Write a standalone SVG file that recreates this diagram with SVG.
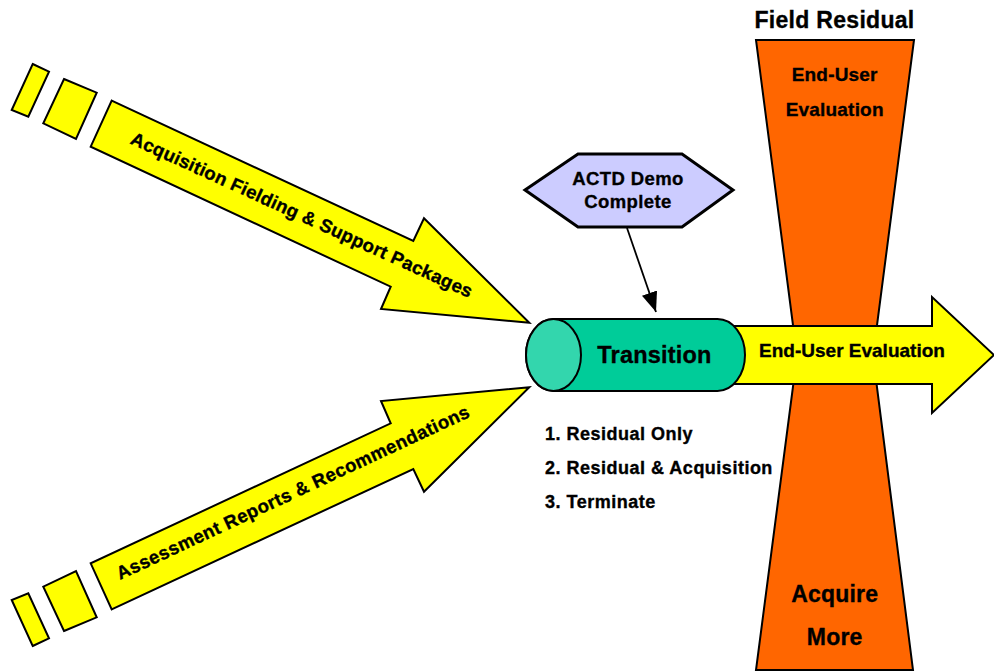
<svg xmlns="http://www.w3.org/2000/svg" width="994" height="672" viewBox="0 0 994 672">
<defs>
<style>
.t{font-family:"Liberation Sans",Arial,sans-serif;font-weight:bold;fill:#000;stroke:#000;stroke-width:0.35}
.yel{fill:#FFFF00;stroke:#000;stroke-width:2;stroke-linejoin:miter}
.org{fill:#FF6600;stroke:#000;stroke-width:2}
.grn{fill:#00CC99;stroke:#000;stroke-width:2}
.grnl{fill:#33D6AD;stroke:#000;stroke-width:2}
.hex{fill:#CCCCFF;stroke:#000;stroke-width:3;stroke-linejoin:miter}
.conn{stroke:#000;stroke-width:1.8;fill:none}
</style>
<marker id="ahbig" viewBox="0 0 20 16" refX="20" refY="8" markerWidth="20" markerHeight="16" markerUnits="userSpaceOnUse" orient="auto">
<path d="M0,0 L20,8 L0,16 Z" fill="#000"/>
</marker>
</defs>
<rect width="994" height="672" fill="#FFFFFF"/>

<g id="field-residual">
<polygon class="org" points="756,40 914,40 873,356 913,670 756,670 797,356"/>
<text class="t" x="834.5" y="28" font-size="23" letter-spacing="0.3" text-anchor="middle">Field Residual</text>
<text class="t" x="834.7" y="81" font-size="19" letter-spacing="0.2" text-anchor="middle">End-User</text>
<text class="t" x="834.7" y="116" font-size="19" letter-spacing="0.2" text-anchor="middle">Evaluation</text>
<text class="t" x="834.7" y="602" font-size="23" letter-spacing="0.2" text-anchor="middle">Acquire</text>
<text class="t" x="834.7" y="645" font-size="23" letter-spacing="0.2" text-anchor="middle">More</text>
</g>

<g id="end-user-arrow">
<polygon class="yel" points="715,326 932,326 932,297 994,355 932,413 932,384 715,384"/>
<text class="t" x="852" y="357" font-size="19" text-anchor="middle">End-User Evaluation</text>
</g>

<g id="acquisition-arrow">
<polygon class="yel" points="32.7,64 49,71.7 28.3,116.7 11.7,110"/>
<polygon class="yel" points="64,79 96.7,92.7 76,139 43.3,123.3"/>
<polygon class="yel" points="111.7,100.7 413.3,241 424,218.3 529.3,322.7 381,309 390.7,286.7 90.7,146.7"/>
<text class="t" font-size="18.5" letter-spacing="0.3" transform="translate(129.3,143.3) rotate(24.5)">Acquisition Fielding &amp; Support Packages</text>
</g>

<g id="assessment-arrow">
<g transform="matrix(1,0,0,-1,0,710)">
<polygon class="yel" points="32.7,64 49,71.7 28.3,116.7 11.7,110"/>
<polygon class="yel" points="64,79 96.7,92.7 76,139 43.3,123.3"/>
<polygon class="yel" points="111.7,100.7 413.3,241 424,218.3 529.3,322.7 381,309 390.7,286.7 90.7,146.7"/>
</g>
<text class="t" font-size="18.5" letter-spacing="0.4" transform="translate(120,580) rotate(-25)">Assessment Reports &amp; Recommendations</text>
</g>

<g id="transition">
<path class="grn" d="M553.5,319 L717.5,319 A27.5,36 0 0 1 717.5,391 L553.5,391 A27.5,36 0 0 1 553.5,319 Z"/>
<ellipse class="grnl" cx="553.5" cy="355" rx="27.5" ry="36"/>
<text class="t" x="654.5" y="363" font-size="23.5" letter-spacing="0.2" text-anchor="middle">Transition</text>
</g>

<g id="actd-demo">
<polygon class="hex" points="525,190 578,154 682,154 733,190 682,227 578,227"/>
<text class="t" x="628" y="185" font-size="18.5" letter-spacing="0.4" text-anchor="middle">ACTD Demo</text>
<text class="t" x="628" y="208" font-size="18.5" letter-spacing="0.4" text-anchor="middle">Complete</text>
</g>

<g id="options">
<text class="t" x="545" y="440" font-size="18" letter-spacing="0.5">1. Residual Only</text>
<text class="t" x="545" y="474" font-size="18" letter-spacing="0.5">2. Residual &amp; Acquisition</text>
<text class="t" x="545" y="508" font-size="18" letter-spacing="0.5">3. Terminate</text>
</g>

<g id="connectors">
<line class="conn" x1="627" y1="228" x2="656" y2="312" marker-end="url(#ahbig)"/>
</g>
</svg>
